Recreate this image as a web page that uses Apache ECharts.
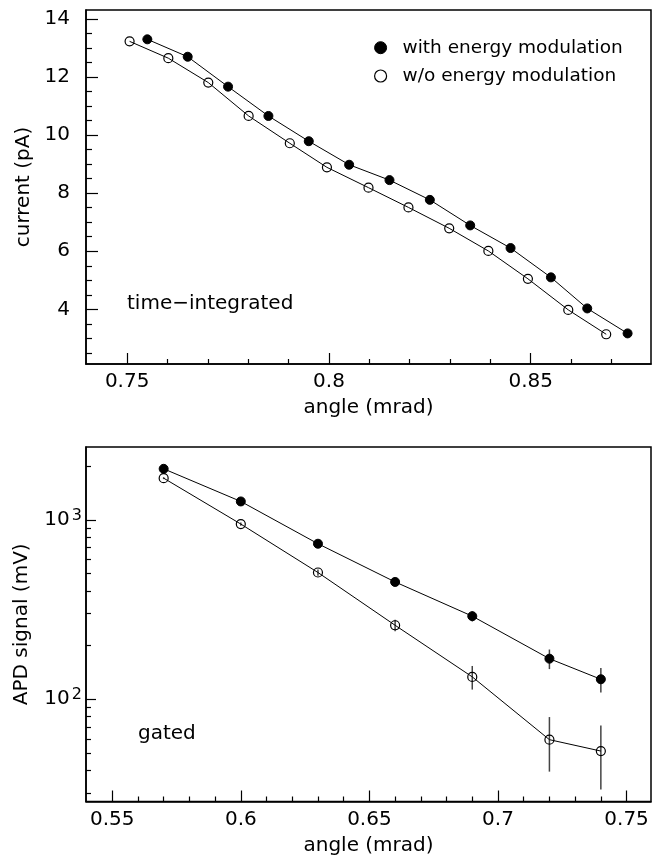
<!DOCTYPE html>
<html>
<head>
<meta charset="utf-8">
<script src="https://cdn.jsdelivr.net/npm/echarts@6/dist/echarts.min.js"></script>
<style>
  html, body { margin: 0; padding: 0; background: #fff; }
  #chart { width: 652px; height: 863px; }
</style>
</head>
<body>
<div id="chart"></div>
<script>
// ---- time-integrated current (pA) vs angle (mrad) ----
const angleWithTI = [0.755, 0.765, 0.775, 0.785, 0.795, 0.805, 0.815, 0.825, 0.835, 0.845, 0.855, 0.864, 0.874];
const currentWithTI = [13.30, 12.70, 11.67, 10.66, 9.79, 8.98, 8.45, 7.77, 6.89, 6.11, 5.10, 4.03, 3.17];
const angleWithoutTI = [0.7506, 0.7602, 0.7701, 0.7801, 0.7903, 0.7995, 0.8098, 0.8197, 0.8298, 0.8395, 0.8493, 0.8593, 0.8687];
const currentWithoutTI = [13.23, 12.65, 11.81, 10.66, 9.72, 8.89, 8.19, 7.51, 6.79, 6.01, 5.05, 3.98, 3.14];

// ---- gated APD signal (mV) vs angle (mrad) ----
const angleGated = [0.57, 0.60, 0.63, 0.66, 0.69, 0.72, 0.74];
const apdWith = [1923, 1265, 735, 450, 290, 168, 129];
const apdWithErr = [20, 20, 20, 20, 19, 21, 20];
const apdWithout = [1706, 946, 508, 258, 133, 59.4, 51.3];
const apdWithoutErr = [20, 20, 20, 19, 20, 20, 20];

// ---- axis tick labels ----
const topXTicks = [0.75, 0.80, 0.85];
const topYTicks = [4, 6, 8, 10, 12, 14];
const botXTicks = [0.55, 0.60, 0.65, 0.70, 0.75];
const botYTicks = [100, 1000];

const nameWith = 'with energy modulation';
const nameWithout = 'w/o energy modulation';

const FONT = 'DejaVu Sans';

// minor tick positions
function linearMinors(start, stop, step) {
  const out = [];
  const n = Math.round((stop - start) / step);
  for (let i = 0; i <= n; i++) out.push(+(start + i * step).toFixed(6));
  return out;
}
function logMinors(lo, hi) {
  const out = [];
  for (let d = 1; d <= 1000; d *= 10) {
    for (let k = 2; k <= 9; k++) {
      const v = k * d;
      if (v > lo && v < hi) out.push(v);
    }
  }
  return out;
}

const topXRange = [0.7398, 0.8798];
const topYRange = [2.116, 14.31];
const botXRange = [0.5398, 0.7595];
const botYRange = [26.85, 2545];

const zip = (a, b) => a.map((x, i) => [x, b[i]]);
const errData = (xs, ys, es) => xs.map((x, i) => [x, ys[i] - es[i], ys[i] + es[i]]);

const axisLineStyle = { show: true, lineStyle: { color: '#000', width: 1.5 } };
const labelStyle = { color: '#000', fontFamily: FONT, fontSize: 20 };
const nameStyle = { color: '#000', fontFamily: FONT, fontSize: 20 };
const tickLine = { color: '#000', width: 1.2 };

function majorX(gridIndex, range, ticks, name) {
  return {
    type: 'value', gridIndex, position: 'bottom', min: range[0], max: range[1],
    name, nameLocation: 'middle', nameGap: 34, nameTextStyle: nameStyle,
    axisLine: axisLineStyle,
    splitLine: { show: false },
    axisTick: { show: true, inside: true, length: 11, customValues: ticks, lineStyle: tickLine },
    axisLabel: Object.assign({ customValues: ticks, margin: 8, formatter: v => String(+v.toFixed(2)) }, labelStyle)
  };
}
function minorX(gridIndex, range, ticks) {
  return {
    type: 'value', gridIndex, position: 'bottom', offset: 0, min: range[0], max: range[1],
    axisLine: { show: false }, splitLine: { show: false }, axisLabel: { show: false },
    axisTick: { show: true, inside: true, length: 5, customValues: ticks, lineStyle: tickLine }
  };
}

const topXMinor = linearMinors(0.75, 0.87, 0.01).filter(v => !topXTicks.some(t => Math.abs(t - v) < 1e-6));
const botXMinor = linearMinors(0.55, 0.75, 0.01).filter(v => !botXTicks.some(t => Math.abs(t - v) < 1e-6));
const topYMinor = linearMinors(2.5, 14, 0.5).filter(v => !topYTicks.includes(v));
const botYMinor = logMinors(botYRange[0], botYRange[1]);

const option = {
  backgroundColor: '#fff',
  animation: false,
  grid: [
    { left: 86, top: 10, width: 565, height: 354, show: true, borderColor: '#000', borderWidth: 1.5 },
    { left: 86, top: 447, width: 565, height: 354.5, show: true, borderColor: '#000', borderWidth: 1.5 }
  ],
  legend: {
    data: [
      { name: nameWith, icon: 'circle', itemStyle: { color: '#000', borderColor: '#000', borderWidth: 1 } },
      { name: nameWithout, icon: 'circle', itemStyle: { color: '#fff', borderColor: '#000', borderWidth: 1.2 } }
    ],
    orient: 'vertical',
    left: 369, top: 32.7,
    itemWidth: 12, itemHeight: 12, itemGap: 8.3,
    textStyle: { color: '#000', fontFamily: FONT, fontSize: 18.5, lineHeight: 20, padding: [0, 0, 0, 11] }
  },
  xAxis: [
    majorX(0, topXRange, topXTicks, 'angle (mrad)'),
    minorX(0, topXRange, topXMinor),
    majorX(1, botXRange, botXTicks, 'angle (mrad)'),
    minorX(1, botXRange, botXMinor)
  ],
  yAxis: [
    {
      type: 'value', gridIndex: 0, position: 'left', min: topYRange[0], max: topYRange[1],
      name: 'current (pA)', nameLocation: 'middle', nameGap: 52, nameTextStyle: nameStyle,
      axisLine: axisLineStyle, splitLine: { show: false },
      axisTick: { show: true, inside: true, length: 12, customValues: topYTicks, lineStyle: tickLine },
      axisLabel: Object.assign({ customValues: topYTicks, margin: 16 }, labelStyle)
    },
    {
      type: 'value', gridIndex: 0, position: 'left', offset: 0, min: topYRange[0], max: topYRange[1],
      axisLine: { show: false }, splitLine: { show: false }, axisLabel: { show: false },
      axisTick: { show: true, inside: true, length: 6, customValues: topYMinor, lineStyle: tickLine }
    },
    {
      type: 'log', logBase: 10, gridIndex: 1, position: 'left', min: botYRange[0], max: botYRange[1],
      name: 'APD signal (mV)', nameLocation: 'middle', nameGap: 54, nameTextStyle: nameStyle,
      axisLine: axisLineStyle, splitLine: { show: false },
      axisTick: { show: true, inside: true, length: 10, customValues: botYTicks, lineStyle: tickLine },
      axisLabel: {
        customValues: botYTicks, margin: 4,
        formatter: v => '{b|10}{s|' + Math.round(Math.log10(v)) + '}',
        rich: {
          b: { color: '#000', fontFamily: FONT, fontSize: 20, lineHeight: 24 },
          s: { color: '#000', fontFamily: FONT, fontSize: 16, lineHeight: 16, verticalAlign: 'top', padding: [0, 0, 0, 2] }
        }
      }
    },
    {
      type: 'log', logBase: 10, gridIndex: 1, position: 'left', offset: 0, min: botYRange[0], max: botYRange[1],
      axisLine: { show: false }, splitLine: { show: false }, axisLabel: { show: false },
      axisTick: { show: true, inside: true, length: 5, customValues: botYMinor, lineStyle: tickLine }
    }
  ],
  graphic: [
    { type: 'text', left: 127, top: 294, style: { text: 'time\u2212integrated', fill: '#000', font: '20px "DejaVu Sans"' } },
    { type: 'text', left: 138, top: 724, style: { text: 'gated', fill: '#000', font: '20px "DejaVu Sans"' } }
  ],
  series: [
    {
      name: nameWith, type: 'line', xAxisIndex: 0, yAxisIndex: 0,
      data: zip(angleWithTI, currentWithTI),
      symbol: 'circle', symbolSize: 9,
      lineStyle: { color: '#000', width: 1 },
      itemStyle: { color: '#000', borderColor: '#000', borderWidth: 1 }
    },
    {
      name: nameWithout, type: 'line', xAxisIndex: 0, yAxisIndex: 0,
      data: zip(angleWithoutTI, currentWithoutTI),
      symbol: 'circle', symbolSize: 9,
      lineStyle: { color: '#000', width: 1 },
      itemStyle: { color: 'rgba(255,255,255,0)', borderColor: '#000', borderWidth: 1.2 }
    },
    {
      name: nameWith, type: 'line', xAxisIndex: 2, yAxisIndex: 2,
      data: zip(angleGated, apdWith),
      symbol: 'circle', symbolSize: 9, z: 3,
      lineStyle: { color: '#000', width: 1 },
      itemStyle: { color: '#000', borderColor: '#000', borderWidth: 1 }
    },
    {
      name: nameWithout, type: 'line', xAxisIndex: 2, yAxisIndex: 2,
      data: zip(angleGated, apdWithout),
      symbol: 'circle', symbolSize: 9, z: 3,
      lineStyle: { color: '#000', width: 1 },
      itemStyle: { color: 'rgba(255,255,255,0)', borderColor: '#000', borderWidth: 1.2 }
    },
    {
      type: 'custom', xAxisIndex: 2, yAxisIndex: 2, z: 2,
      data: errData(angleGated, apdWith, apdWithErr).concat(errData(angleGated, apdWithout, apdWithoutErr)),
      renderItem: (params, api) => {
        const p1 = api.coord([api.value(0), api.value(1)]);
        const p2 = api.coord([api.value(0), api.value(2)]);
        return { type: 'line', shape: { x1: p1[0], y1: p1[1], x2: p2[0], y2: p2[1] }, style: { stroke: '#444', lineWidth: 1.5 } };
      },
      encode: { x: 0, y: [1, 2] }
    }
  ]
};

const chart = echarts.init(document.getElementById('chart'), null, { renderer: 'canvas' });
chart.setOption(option);
</script>
</body>
</html>
